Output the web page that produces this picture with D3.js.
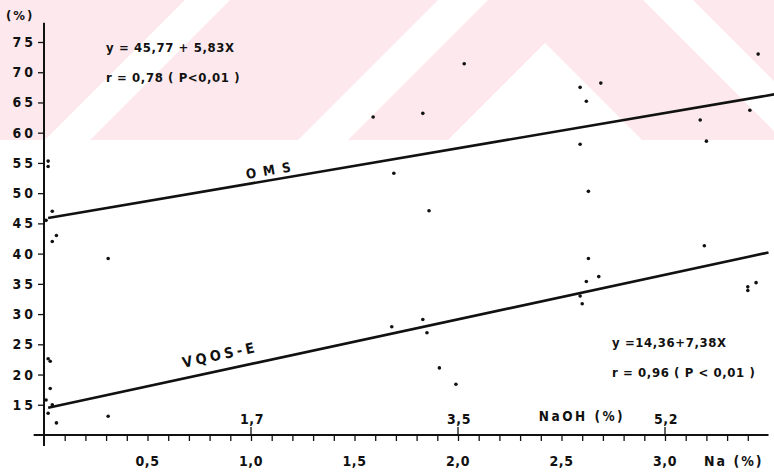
<!DOCTYPE html>
<html>
<head>
<meta charset="UTF-8">
<title>OMS / VQOS-E vs Na</title>
<script src="https://d3js.org/d3.v7.min.js"></script>
<style>
  body { margin: 0; background: #fff; }
  text { font-family: "DejaVu Sans Condensed", "DejaVu Sans", sans-serif; fill: #111; }
</style>
</head>
<body>
<div id="chart"></div>
<script>
// ---- data ----
// Na (%) and value (%) of the OMS points
var omsNa  = [0.02, 0.02, 0.04, 0.01, 0.06, 0.04, 0.31, 1.59, 1.83, 2.03, 1.69, 1.86, 2.59, 2.62, 2.69, 2.59, 2.63, 3.17, 3.20, 3.19, 3.45, 3.41];
var omsVal = [55.3, 54.4, 47.0, 45.5, 43.0, 42.0, 39.2, 62.6, 63.2, 71.4, 53.3, 47.1, 67.5, 65.2, 68.2, 58.1, 50.3, 62.1, 58.6, 41.3, 73.0, 63.7];
// Na (%) and value (%) of the VQOS-E points
var vqosNa  = [0.02, 0.03, 0.03, 0.01, 0.04, 0.02, 0.06, 0.31, 1.68, 1.83, 1.85, 1.91, 1.99, 2.63, 2.68, 2.62, 2.59, 2.60, 3.40, 3.40, 3.44];
var vqosVal = [22.6, 22.2, 17.7, 15.8, 15.0, 13.6, 12.0, 13.1, 27.9, 29.1, 26.9, 21.1, 18.4, 39.2, 36.2, 35.4, 33.0, 31.7, 34.5, 33.9, 35.2];

// regression lines: intercept, slope, x-range
var omsFit  = { a: 45.77, b: 5.83, from: 0.02, to: 3.53 };
var vqosFit = { a: 14.36, b: 7.38, from: 0.02, to: 3.50 };

var yTicks = [15, 20, 25, 30, 35, 40, 45, 50, 55, 60, 65, 70, 75];
var xMajor = [0.5, 1.0, 1.5, 2.0, 2.5, 3.0];
// NaOH (%) secondary labels at Na positions
var naohPos    = [1.0, 2.0, 3.0];
var naohLabels = ["1,7", "3,5", "5,2"];

var W = 774, H = 473;

var svg = d3.select("#chart").append("svg")
    .attr("width", W)
    .attr("height", H);

// faint pink watermark in the top band
var wm = svg.append("g");
wm.append("clipPath").attr("id", "wmclip")
    .append("rect").attr("x", 0).attr("y", 0).attr("width", W).attr("height", 140);
var wg = wm.append("g").attr("clip-path", "url(#wmclip)");
wg.append("rect").attr("x", 0).attr("y", 0).attr("width", W).attr("height", 140).attr("fill", "#fde9ed");
var cx = 545;
// inner white triangle
wg.append("path").attr("fill", "#fff")
    .attr("d", "M" + cx + ",43 L" + (cx - 200) + ",243 L" + (cx + 200) + ",243 Z");
// white band, left arm
wg.append("path").attr("fill", "#fff")
    .attr("d", "M" + (cx - 107) + ",0 L" + (cx - 57) + ",0 L" + (cx - 207) + ",150 L" + (cx - 257) + ",150 Z");
// white band, right arm
wg.append("path").attr("fill", "#fff")
    .attr("d", "M" + (cx + 98) + ",0 L" + (cx + 148) + ",0 L" + (cx + 298) + ",150 L" + (cx + 248) + ",150 Z");
// white "/" band on the left
wg.append("path").attr("fill", "#fff")
    .attr("d", "M185,0 L230,0 L80,150 L35,150 Z");

// scales
var x = d3.scaleLinear().domain([0, 3]).range([44, 665]);
var y = d3.scaleLinear().domain([10, 75]).range([435, 42]);

var fmt = function (d) { return d3.format(".1f")(d).replace(".", ","); };

// y axis
var yAxis = svg.append("g")
    .attr("transform", "translate(" + x(0) + ",0)")
    .call(d3.axisLeft(y).tickValues(yTicks).tickSize(6).tickPadding(2).tickFormat(d3.format("d")));
yAxis.select(".domain").remove();
yAxis.selectAll("line").attr("stroke", "#111").attr("stroke-width", 1.3);
yAxis.selectAll("text")
    .style("font-size", "14px").style("font-weight", "bold").style("letter-spacing", "3px")
    .attr("fill", "#111");
svg.append("line")
    .attr("x1", x(0)).attr("x2", x(0))
    .attr("y1", y(78.2)).attr("y2", y(8.2))
    .attr("stroke", "#111").attr("stroke-width", 2);
svg.append("text")
    .attr("x", 6).attr("y", 20)
    .style("font-size", "13px").style("font-weight", "bold").style("letter-spacing", "2px")
    .text("(%)");

// x axis
var xAxis = svg.append("g")
    .attr("transform", "translate(0," + y(10) + ")")
    .call(d3.axisBottom(x).tickValues(d3.range(1, 35).map(function (i) { return i / 10; }))
        .tickSize(6).tickFormat(""));
xAxis.select(".domain").remove();
xAxis.selectAll("line").attr("stroke", "#111").attr("stroke-width", 1.3);
svg.append("line")
    .attr("x1", x(-0.05)).attr("x2", x(3.5))
    .attr("y1", y(10)).attr("y2", y(10))
    .attr("stroke", "#111").attr("stroke-width", 2);

svg.append("g").selectAll("text")
    .data(xMajor)
    .join("text")
    .attr("x", function (d) { return x(d); })
    .attr("y", 466)
    .attr("text-anchor", "middle")
    .style("font-size", "14px").style("font-weight", "bold").style("letter-spacing", "0.5px")
    .text(fmt);

svg.append("text")
    .attr("x", 704).attr("y", 466)
    .style("font-size", "14px").style("font-weight", "bold").style("letter-spacing", "2px")
    .text("Na (%)");

// NaOH secondary scale marks above the axis
svg.append("g").selectAll("line")
    .data(naohPos)
    .join("line")
    .attr("x1", function (d) { return x(d); })
    .attr("x2", function (d) { return x(d); })
    .attr("y1", y(10) - 8).attr("y2", y(10))
    .attr("stroke", "#111").attr("stroke-width", 1.3);
svg.append("g").selectAll("text")
    .data(naohPos)
    .join("text")
    .attr("x", function (d) { return x(d) + 1; })
    .attr("y", 424)
    .attr("text-anchor", "middle")
    .style("font-size", "14px").style("font-weight", "bold").style("letter-spacing", "0.5px")
    .text(function (d, i) { return naohLabels[i]; });
svg.append("text")
    .attr("x", 582).attr("y", 421)
    .attr("text-anchor", "middle")
    .style("font-size", "13.5px").style("font-weight", "bold").style("letter-spacing", "2.5px")
    .text("NaOH (%)");

// regression lines
function fitLine(f) {
    return [[f.from, f.a + f.b * f.from], [f.to, f.a + f.b * f.to]];
}
var line = d3.line()
    .x(function (d) { return x(d[0]); })
    .y(function (d) { return y(d[1]); });

[omsFit, vqosFit].forEach(function (f) {
    svg.append("path")
        .datum(fitLine(f))
        .attr("d", line)
        .attr("fill", "none")
        .attr("stroke", "#111")
        .attr("stroke-width", 2.6);
});

// labels along the lines
function lineLabel(f, atX, lift, txt, size, spacing) {
    var px = x(atX), py = y(f.a + f.b * atX) - lift;
    var ang = Math.atan2(y(f.a + f.b * 1) - y(f.a), x(1) - x(0)) * 180 / Math.PI;
    svg.append("text")
        .attr("transform", "translate(" + px + "," + py + ") rotate(" + ang + ")")
        .attr("text-anchor", "middle")
        .attr("dy", "0.35em")
        .style("font-size", size + "px").style("font-weight", "bold").style("letter-spacing", spacing + "px")
        .text(txt);
}
lineLabel(omsFit, 1.1, 10, "OMS", 13.5, 7);
lineLabel(vqosFit, 0.85, 16, "VQOS-E", 14.5, 3.5);

// scatter points
function dots(xs, vs) {
    svg.append("g").selectAll("circle")
        .data(xs.map(function (d, i) { return [d, vs[i]]; }))
        .join("circle")
        .attr("cx", function (d) { return x(d[0]); })
        .attr("cy", function (d) { return y(d[1]); })
        .attr("r", 1.8)
        .attr("fill", "#111");
}
dots(omsNa, omsVal);
dots(vqosNa, vqosVal);

// equations
function note(px, py, txt) {
    svg.append("text")
        .attr("x", px).attr("y", py)
        .style("font-size", "13px").style("font-weight", "bold").style("letter-spacing", "0.6px")
        .text(txt);
}
note(106, 52, "y = 45,77 + 5,83X");
note(106, 82, "r = 0,78  ( P<0,01 )");
note(612, 347, "y =14,36+7,38X");
note(612, 377, "r = 0,96  ( P < 0,01 )");
</script>
</body>
</html>
